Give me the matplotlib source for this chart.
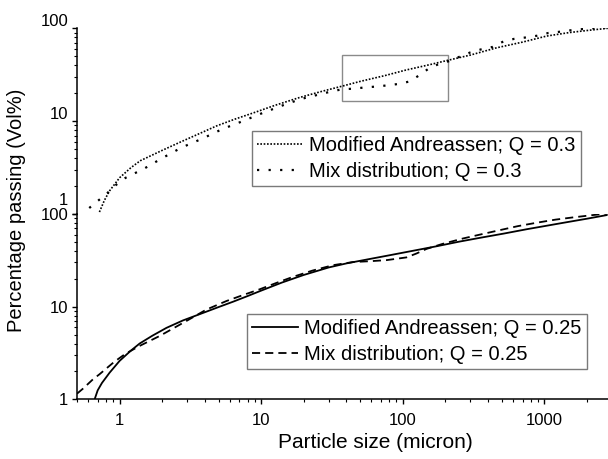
import matplotlib
matplotlib.use('Agg')
import matplotlib.pyplot as plt
import matplotlib.transforms as mtransforms
from matplotlib.patches import Rectangle
from matplotlib.ticker import LogLocator, NullFormatter, FixedLocator, FixedFormatter

plt.rcParams['font.family'] = ['Liberation Sans', 'DejaVu Sans']

# ---------------- data ----------------
# Top panel, Q = 0.3
x_ma_03 = [0.72, 0.78, 0.85, 1.0, 1.2, 1.4, 2.0, 2.65, 3.7, 4.85, 6.5, 8.7, 12.5, 18.7,
           27, 38, 50, 75, 105, 155, 205, 300, 460, 700, 1036, 1500, 2100, 2800]
y_ma_03 = [1.05, 1.40, 1.78, 2.46, 3.15, 3.75, 4.85, 5.9, 7.4, 8.9, 10.5, 12.2, 14.8, 18.0,
           21.0, 24.0, 26.8, 31.0, 35.5, 40.6, 45.0, 51.5, 61.7, 71.0, 82.5, 90.0, 95.5, 100.0]

x_mix_03 = [0.61, 0.70, 0.81, 0.92, 1.1, 1.5, 2.0, 2.74, 3.85, 5.3, 7.4, 10.3, 14.2, 19,
            25, 31, 37, 45, 53, 65, 78, 94, 111, 130, 151, 181, 215, 240, 300, 360, 430,
            512, 612, 730, 880, 1065, 1300, 1514, 1850, 2213, 2700]
y_mix_03 = [1.16, 1.38, 1.65, 2.0, 2.45, 3.1, 4.0, 5.2, 6.5, 8.2, 10.0, 12.3, 14.8, 17.3,
            19.2, 20.8, 22.0, 22.4, 23.0, 23.6, 24.3, 25.2, 26.7, 31.0, 36.5, 41.5, 44.5,
            48.0, 55.0, 59.5, 63.0, 72.0, 77.0, 79.5, 83.0, 89.0, 92.0, 95.0, 98.0, 100.0, 102.0]

# Bottom panel, Q = 0.25
x_ma_025 = [0.666, 0.70, 0.75, 0.85, 1.0, 1.2, 1.385, 1.7, 2.14, 2.8, 3.68, 5.0, 6.32, 8.0,
            10, 14, 20, 30, 40, 59, 80, 120, 175, 250, 350, 517, 750, 1000, 1400, 2000, 2750]
y_ma_025 = [1.0, 1.25, 1.5, 1.94, 2.6, 3.35, 4.0, 4.85, 5.9, 7.1, 8.3, 9.9, 11.3, 13.0,
            14.9, 18.2, 22.0, 26.5, 29.3, 32.8, 35.8, 40.3, 45.0, 50.3, 55.3, 61.5, 68.5,
            74.0, 81.0, 89.0, 97.3]

x_mix_025 = [0.50, 0.55, 0.65, 0.72, 0.82, 0.92, 1.1, 1.385, 1.92, 2.96, 4.1, 5.68, 7.5,
             9.76, 13, 16.8, 23, 32, 44.5, 60, 77, 106, 125, 147, 190, 267, 360, 485, 650,
             881, 1200, 1600, 2213, 2800]
y_mix_025 = [1.15, 1.30, 1.65, 1.86, 2.2, 2.55, 3.1, 3.77, 4.83, 7.0, 9.3, 11.5, 13.4,
             15.4, 18.2, 21.0, 24.5, 28.0, 30.3, 31.0, 31.8, 34.0, 37.5, 42.0, 47.5, 54.5,
             60.5, 67.0, 74.0, 80.5, 87.0, 92.0, 97.5, 101.0]

# zoom box (top panel)
box_x = [37, 208]
box_y = [16.5, 52]

y_ticks = [1, 10, 100]
y_tick_labels = ['1', '10', '100']
x_ticks = [1, 10, 100, 1000]
x_tick_labels = ['1', '10', '100', '1000']

lab_ma_03 = 'Modified Andreassen; Q = 0.3'
lab_mix_03 = 'Mix distribution; Q = 0.3'
lab_ma_025 = 'Modified Andreassen; Q = 0.25'
lab_mix_025 = 'Mix distribution; Q = 0.25'

# ---------------- figure ----------------
W, H = 608, 459
fig = plt.figure(figsize=(W / 100, H / 100), dpi=100)

left = 77 / W
right = 612 / W
b_bot, b_top = 399.3, 214.0
t_top = 28.3
ax_b = fig.add_axes([left, (H - b_bot) / H, right - left, (b_bot - b_top) / H])
ax_t = fig.add_axes([left, (H - b_top) / H, right - left, (b_top - t_top) / H])

for ax in (ax_t, ax_b):
    ax.set_xscale('log')
    ax.set_yscale('log')
    ax.set_xlim(0.5, 3000)
    ax.set_ylim(1, 100)
    ax.patch.set_alpha(0)
    for s in ('top', 'right'):
        ax.spines[s].set_visible(False)
    ax.spines['left'].set_linewidth(1.1)
    ax.spines['bottom'].set_linewidth(1.1)
    ax.yaxis.set_major_locator(FixedLocator(y_ticks))
    ax.yaxis.set_major_formatter(FixedFormatter(y_tick_labels))
    ax.yaxis.set_minor_locator(LogLocator(base=10, subs=range(2, 10)))
    ax.yaxis.set_minor_formatter(NullFormatter())
    ax.tick_params(which='major', length=3.8, width=1.0, labelsize=12, pad=2.5)
    ax.tick_params(which='minor', length=2.2, width=0.8)

ax_t.spines['bottom'].set_visible(False)
ax_t.tick_params(axis='x', which='both', bottom=False, labelbottom=False)

ax_b.xaxis.set_major_locator(FixedLocator(x_ticks))
ax_b.xaxis.set_major_formatter(FixedFormatter(x_tick_labels))
ax_b.xaxis.set_minor_locator(LogLocator(base=10, subs=range(2, 10)))
ax_b.xaxis.set_minor_formatter(NullFormatter())
ax_b.tick_params(axis='x', which='major', pad=6)

# top panel tick labels sit slightly above their ticks
for i, lab in enumerate(ax_t.get_yticklabels()):
    dy = 15 if i == 0 else 8
    off = mtransforms.ScaledTranslation(0, dy / 100, fig.dpi_scale_trans)
    lab.set_transform(lab.get_transform() + off)

# curves
l1, = ax_t.plot(x_ma_03, y_ma_03, color='black', lw=1.2, linestyle=(0, (1, 1.0)),
                label=lab_ma_03)
l2, = ax_t.plot(x_mix_03, y_mix_03, color='black', lw=1.6, linestyle=(0, (1, 4.2)),
                label=lab_mix_03)
ax_t.add_patch(Rectangle((box_x[0], box_y[0]), box_x[1] - box_x[0], box_y[1] - box_y[0],
                         fill=False, edgecolor='#8a8a8a', lw=1.0))

l3, = ax_b.plot(x_ma_025, y_ma_025, color='black', lw=1.3, linestyle='-', label=lab_ma_025)
l4, = ax_b.plot(x_mix_025, y_mix_025, color='black', lw=1.3, linestyle=(0, (4.5, 2.8)),
                label=lab_mix_025)

leg_kw = dict(fontsize=14.5, frameon=True, fancybox=False, borderaxespad=0,
              handlelength=2.3, handletextpad=0.3, borderpad=0.25, labelspacing=0.33,
              bbox_transform=fig.transFigure, loc='upper left')
leg_t = ax_t.legend(handles=[l1, l2], bbox_to_anchor=(252 / W, 1 - 131 / H), **leg_kw)
leg_b = ax_b.legend(handles=[l3, l4], bbox_to_anchor=(247 / W, 1 - 314 / H), **leg_kw)
for lg in (leg_t, leg_b):
    fr = lg.get_frame()
    fr.set_edgecolor('#7a7a7a')
    fr.set_linewidth(1.0)
    fr.set_alpha(1)

fig.text(17 / W, 1 - 210 / H, 'Percentage passing (Vol%)', rotation=90,
         ha='center', va='center', fontsize=14.5)
fig.text(375 / W, 1 - 442 / H, 'Particle size (micron)', ha='center', va='center',
         fontsize=15)

fig.savefig('out.png', dpi=100)
